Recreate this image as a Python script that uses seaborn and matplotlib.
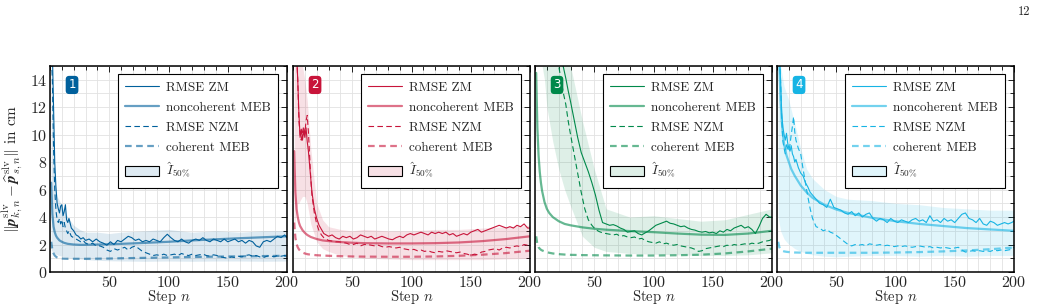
import numpy as np
import matplotlib
matplotlib.use("Agg")
import matplotlib.pyplot as plt
import seaborn as sns
from matplotlib.lines import Line2D
from matplotlib.patches import Patch
from matplotlib.ticker import MultipleLocator

# steps of the noisy RMSE curves
steps = ([1, 2, 3, 4, 5, 6, 7, 8, 9, 10, 11, 12, 13, 14, 15, 16]
         + [18, 20, 22, 24, 26, 28, 30]
         + list(range(33, 199, 3)) + [200])
# steps of the smooth MEB curves and the 50% bands
steps_s = [1, 2, 3, 4, 5, 6, 8, 10, 12, 15, 20, 25, 30, 40, 50, 60, 80, 100, 120, 140, 160, 180, 200]

# panel 1
zm1 = [16, 16, 12, 8.0, 6.2, 5.0, 4.6, 4.3, 4.8, 4.9, 4.1, 4.4, 4.9, 3.8, 3.6, 3.9,
       3.2, 3.0, 2.7, 2.6, 2.4, 2.5, 2.3,
       2.4, 2.2, 2.4, 2.2, 2.1, 1.95, 2.2, 2.0, 2.3, 2.2, 2.4, 2.6, 2.5, 2.3, 2.4, 2.2, 2.3, 2.2, 2.4, 2.3,
       2.2, 2.5, 2.75, 2.5, 2.3, 2.2, 2.4, 2.2, 2.1, 2.3, 2.4, 2.3, 2.5, 2.3, 2.2, 2.4, 2.3, 2.2, 2.4, 2.2,
       2.3, 2.4, 2.2, 2.3, 2.1, 2.3, 2.2, 1.9, 1.8, 2.2, 2.3, 2.2, 2.4, 2.6, 2.5, 2.7, 2.5]
nzm1 = [16, 14, 9, 6, 4.5, 3.8, 3.6, 3.9, 3.5, 3.8, 3.3, 3.6, 3.2, 3.0, 2.8, 3.0,
        2.6, 2.5, 2.4, 2.3, 2.2, 2.3, 2.1,
        2.0, 2.1, 1.9, 1.9, 1.8, 1.6, 1.5, 1.7, 1.6, 1.7, 1.8, 1.6, 1.8, 1.9, 1.7, 1.5, 1.4, 1.3, 1.2, 1.25,
        1.2, 1.3, 1.2, 1.25, 1.3, 1.2, 1.35, 1.25, 1.2, 1.3, 1.2, 1.25, 1.3, 1.2, 1.15, 1.25, 1.2, 1.1, 1.05,
        1.0, 1.1, 1.05, 1.15, 1.1, 1.2, 1.25, 1.15, 1.2, 1.1, 1.05, 1.15, 1.2, 1.1, 1.2, 1.15, 1.2, 1.15]
noncoh1 = [6.5, 4.2, 3.3, 2.9, 2.65, 2.5, 2.3, 2.2, 2.12, 2.05, 2.0, 1.98, 1.98, 2.0, 2.02, 2.05,
           2.12, 2.2, 2.3, 2.38, 2.46, 2.53, 2.6]
coh1 = [2.2, 1.6, 1.35, 1.2, 1.12, 1.06, 1.0, 0.98, 0.97, 0.96, 0.96, 0.96, 0.96, 0.97, 0.98, 1.0,
        1.03, 1.06, 1.09, 1.12, 1.14, 1.16, 1.18]
lo1 = [1.6, 1.5, 1.4, 1.35, 1.3, 1.25, 1.2, 1.15, 1.1, 1.05, 1.0, 0.95, 0.9, 0.85, 0.82, 0.8,
       0.78, 0.8, 0.78, 0.8, 0.8, 0.78, 0.8]
hi1 = [15, 12, 8.5, 7.0, 6.0, 5.5, 5.2, 4.8, 4.5, 4.0, 3.4, 3.1, 2.9, 2.9, 2.8, 2.9,
       3.0, 3.1, 2.9, 3.0, 2.9, 3.0, 3.0]

# panel 2
zm2 = [16, 16, 16, 14, 11.5, 9.8, 10.4, 9.6, 10.3, 9.8, 10.5, 9.5, 8.8, 7.8, 6.8, 5.8,
       4.6, 3.9, 3.4, 3.1, 2.8, 2.7, 2.6,
       2.7, 2.5, 2.4, 2.6, 2.5, 2.6, 2.4, 2.5, 2.7, 2.6, 2.5, 2.6, 2.4, 2.5, 2.6, 2.5, 2.4, 2.35, 2.5, 2.6,
       2.5, 2.7, 2.8, 2.7, 2.8, 2.9, 2.8, 2.7, 2.9, 2.8, 2.9, 2.8, 2.9, 2.7, 2.8, 2.6, 2.7, 2.8, 2.7, 2.9,
       3.0, 3.1, 2.9, 3.0, 3.1, 3.2, 3.3, 3.4, 3.3, 3.2, 3.3, 3.2, 3.4, 3.3, 3.5, 3.2, 3.2]
nzm2 = [16, 16, 16, 14, 11, 10.0, 9.6, 10.2, 10.6, 10.1, 11.0, 11.4, 10.2, 8.5, 6.8, 5.6,
        4.3, 3.5, 3.0, 2.7, 2.5, 2.4, 2.3,
        2.25, 2.2, 2.2, 2.15, 2.1, 2.0, 2.0, 2.1, 1.9, 2.0, 2.0, 1.95, 1.9, 1.95, 1.85, 1.8, 1.85, 1.8,
        1.75, 1.8, 1.7, 1.65, 1.6, 1.65, 1.55, 1.6, 1.5, 1.55, 1.45, 1.4, 1.5, 1.45, 1.55, 1.5, 1.45, 1.4,
        1.45, 1.35, 1.3, 1.2, 1.3, 1.25, 1.45, 1.5, 1.6, 1.65, 1.7, 1.6, 1.75, 1.8, 1.75, 1.85, 1.9, 1.85,
        2.0, 1.95, 2.0]
noncoh2 = [8.8, 5.8, 4.6, 4.0, 3.6, 3.35, 3.05, 2.85, 2.7, 2.55, 2.4, 2.3, 2.25, 2.18, 2.13, 2.1,
           2.08, 2.08, 2.1, 2.15, 2.25, 2.4, 2.6]
coh2 = [3.6, 2.5, 2.05, 1.8, 1.65, 1.55, 1.42, 1.35, 1.3, 1.26, 1.22, 1.2, 1.18, 1.15, 1.13, 1.12,
        1.11, 1.11, 1.13, 1.18, 1.26, 1.38, 1.55]
lo2 = [3.0, 4.0, 4.5, 5.0, 5.0, 5.2, 5.5, 5.5, 5.0, 3.5, 2.2, 1.7, 1.5, 1.2, 1.1, 1.0,
       0.95, 0.9, 0.9, 0.9, 0.9, 0.95, 1.0]
hi2 = [15, 15, 15, 15, 15, 15, 15, 14, 12.5, 9, 5.0, 3.8, 3.3, 3.1, 3.0, 3.1,
       3.0, 3.0, 3.1, 3.1, 3.2, 3.3, 3.4]

# panel 3
zm3 = [16, 16, 16, 16, 16, 16, 16, 16, 16, 16, 16, 16, 16, 16, 16, 16,
       16, 16, 15.5, 14.9, 14.1, 13.2, 12.4,
       11.1, 9.8, 8.7, 8.0, 7.3, 6.5, 5.6, 4.5, 3.6, 3.5, 3.4, 3.45, 3.35, 3.2, 3.1, 2.9, 2.95, 3.0, 2.8, 2.7,
       2.85, 3.0, 3.2, 3.4, 3.5, 3.6, 3.7, 3.55, 3.5, 3.4, 3.3, 3.35, 3.2, 3.1, 3.05, 2.95, 2.9, 2.95, 2.85,
       2.9, 2.8, 3.0, 2.9, 3.1, 3.0, 3.2, 3.3, 3.4, 3.2, 3.3, 3.1, 2.8, 3.3, 3.9, 4.2, 4.0, 4.0]
nzm3 = [16, 16, 16, 16, 16, 16, 16, 16, 16, 16, 16, 16, 16, 16, 16, 16,
        16, 15, 14.0, 13.0, 12.2, 11.0, 10.0,
        8.6, 7.2, 5.8, 4.6, 3.8, 3.4, 3.1, 2.95, 2.85, 2.8, 2.75, 2.7, 2.75, 2.6, 2.65, 2.55, 2.5, 2.55, 2.4,
        2.45, 2.3, 2.2, 2.15, 2.1, 2.2, 2.05, 2.1, 2.0, 1.95, 2.0, 1.9, 1.85, 1.8, 1.75, 1.65, 1.5, 1.55,
        1.7, 1.75, 1.8, 1.85, 1.9, 1.85, 1.95, 1.9, 2.0, 1.95, 2.0, 2.05, 2.0, 2.1, 2.05, 2.1, 2.2, 2.25,
        2.3, 2.4]
noncoh3 = [14.5, 10.5, 8.5, 7.3, 6.5, 5.9, 5.1, 4.6, 4.3, 4.0, 3.7, 3.5, 3.4, 3.25, 3.15, 3.08,
           2.98, 2.9, 2.8, 2.72, 2.7, 2.8, 3.0]
coh3 = [2.6, 2.0, 1.8, 1.7, 1.62, 1.57, 1.5, 1.45, 1.4, 1.35, 1.3, 1.27, 1.25, 1.23, 1.22, 1.21,
        1.2, 1.2, 1.22, 1.26, 1.35, 1.5, 1.7]
lo3 = [15, 15, 15, 15, 15, 15, 14, 12, 11, 9.5, 7.5, 6.0, 4.8, 2.6, 1.8, 1.5,
       1.35, 1.3, 1.25, 1.2, 1.2, 1.25, 1.4]
hi3 = [15, 15, 15, 15, 15, 15, 15, 15, 15, 15, 15, 15, 15, 11, 7.5, 4.6,
       4.0, 4.1, 3.9, 3.7, 3.8, 4.2, 4.6]

# panel 4
zm4 = [16, 16, 14, 11.5, 10.5, 10.0, 9.6, 10.1, 9.4, 9.0, 8.8, 9.2, 8.6, 8.4, 8.0, 8.2,
       7.6, 7.2, 7.0, 6.5, 6.2, 5.8, 5.6,
       5.3, 5.0, 4.9, 4.7, 5.3, 4.7, 4.6, 4.5, 4.3, 4.2, 4.4, 4.1, 4.3, 4.0, 4.2, 4.3, 3.9, 3.7, 3.9, 3.8,
       3.6, 3.9, 3.7, 3.6, 3.8, 3.7, 3.6, 3.8, 3.9, 3.7, 3.8, 3.6, 4.1, 3.7, 3.8, 3.6, 3.9, 3.7, 3.8, 3.6,
       3.9, 4.2, 4.3, 3.9, 3.8, 3.6, 3.9, 3.5, 3.4, 3.7, 3.6, 3.4, 3.5, 3.6, 3.5, 3.6, 3.7]
nzm4 = [16, 16, 14, 11, 9.5, 9.0, 8.6, 9.4, 9.0, 8.8, 9.3, 10.0, 10.6, 11.3, 10.2, 9.6,
        9.0, 8.6, 7.5, 6.5, 5.5, 4.6, 3.9,
        3.3, 3.2, 3.0, 3.1, 2.9, 2.8, 2.6, 2.4, 2.2, 2.0, 1.9, 2.0, 1.95, 2.0, 1.9, 2.05, 2.0, 1.95, 2.0,
        1.9, 1.95, 1.9, 1.85, 1.9, 1.85, 1.9, 1.85, 1.8, 1.85, 1.9, 1.85, 1.8, 1.85, 1.75, 1.8, 1.75, 1.8,
        1.75, 1.7, 1.75, 1.8, 1.6, 1.45, 1.5, 1.55, 1.5, 1.55, 1.5, 1.55, 1.5, 1.6, 1.55, 1.6, 1.55, 1.6,
        1.65, 1.8]
noncoh4 = [20, 15, 12.5, 11.0, 10.0, 9.3, 8.5, 8.0, 7.5, 7.0, 6.3, 5.8, 5.4, 4.9, 4.55, 4.3,
           3.95, 3.7, 3.5, 3.35, 3.2, 3.1, 3.0]
coh4 = [2.2, 1.8, 1.65, 1.58, 1.53, 1.5, 1.47, 1.45, 1.44, 1.42, 1.41, 1.4, 1.4, 1.4, 1.4, 1.4,
        1.4, 1.42, 1.45, 1.5, 1.57, 1.66, 1.78]
lo4 = [4.0, 3.5, 3.0, 2.8, 2.6, 2.4, 2.2, 2.0, 1.9, 1.7, 1.5, 1.35, 1.25, 1.15, 1.1, 1.15,
       1.2, 1.2, 1.15, 1.2, 1.15, 1.2, 1.2]
hi4 = [15, 15, 15, 14.5, 14, 13.5, 13, 12.5, 11.8, 10.8, 9.0, 7.5, 6.8, 6.0, 5.5, 5.3,
       5.2, 5.0, 4.9, 4.7, 4.6, 4.5, 4.5]

colors = ['#00609c', '#c8143a', '#00894a', '#16b4e4']
panels = [(zm1, nzm1, noncoh1, coh1, lo1, hi1),
          (zm2, nzm2, noncoh2, coh2, lo2, hi2),
          (zm3, nzm3, noncoh3, coh3, lo3, hi3),
          (zm4, nzm4, noncoh4, coh4, lo4, hi4)]

sns.set_style('white')
plt.rcParams['font.family'] = ['cmr10', 'DejaVu Serif']
plt.rcParams['mathtext.fontset'] = 'cm'
plt.rcParams['axes.formatter.use_mathtext'] = True
plt.rcParams['axes.unicode_minus'] = False

W, H = 1037, 308
fig = plt.figure(figsize=(W / 100, H / 100), dpi=100)
lefts = [50, 293, 535, 777]
fs_leg = 9.5
fs_tick = 11.5

for i, (zm, nzm, noncoh, coh, lo, hi) in enumerate(panels):
    c = colors[i]
    ax = fig.add_axes([lefts[i] / W, 36 / H, 237 / W, 206 / H])
    ax.fill_between(steps_s, lo, hi, color=c, alpha=0.13, lw=0)
    sns.lineplot(x=steps_s, y=noncoh, ax=ax, color=c, alpha=0.6, linewidth=1.6)
    sns.lineplot(x=steps_s, y=coh, ax=ax, color=c, alpha=0.6, linewidth=1.6, linestyle=(0, (3, 2)))
    sns.lineplot(x=steps, y=zm, ax=ax, color=c, linewidth=0.8)
    sns.lineplot(x=steps, y=nzm, ax=ax, color=c, linewidth=0.8, linestyle=(0, (5, 3)))

    ax.set_xlim(0, 200)
    ax.set_ylim(0, 15)
    ax.xaxis.set_major_locator(MultipleLocator(50))
    ax.xaxis.set_minor_locator(MultipleLocator(10))
    ax.yaxis.set_major_locator(MultipleLocator(2))
    ax.yaxis.set_minor_locator(MultipleLocator(1))
    ax.grid(True, which='both', color='#e2e2e2', lw=0.6)
    ax.set_axisbelow(True)
    ax.tick_params(which='both', direction='in', top=True, right=True, color='black',
                   labelsize=fs_tick, pad=2)
    ax.tick_params(which='major', length=4, width=0.6)
    ax.tick_params(which='minor', length=3, width=0.6)
    for sp in ax.spines.values():
        sp.set_color('black')
        sp.set_linewidth(1.1)
    ax.set_xticks([50, 100, 150, 200])
    ax.set_xlabel('Step $n$', fontsize=10.5, labelpad=-1)
    if i == 0:
        ax.set_ylabel(r'$\Vert\boldsymbol{p}^{\mathrm{slv}}_{k,n} - '
                      r'\widehat{\boldsymbol{p}}^{\mathrm{slv}}_{s,n}\Vert$ in cm',
                      fontsize=11, labelpad=4)
    else:
        ax.tick_params(labelleft=False)

    ax.text(0.093, 0.908, str(i + 1), transform=ax.transAxes, color='white',
            ha='center', va='center', fontsize=8.5, family='DejaVu Sans',
            bbox=dict(boxstyle='round,pad=0.22,rounding_size=0.3', fc=c, ec='none'))

    handles = [Line2D([], [], color=c, lw=0.8),
               Line2D([], [], color=c, lw=1.6, alpha=0.6),
               Line2D([], [], color=c, lw=0.8, linestyle=(0, (5, 3))),
               Line2D([], [], color=c, lw=1.6, alpha=0.6, linestyle=(0, (3, 2))),
               Patch(facecolor=matplotlib.colors.to_rgba(c, 0.13), edgecolor='black', lw=0.8)]
    labels = ['RMSE ZM', 'noncoherent MEB', 'RMSE NZM', 'coherent MEB', r'$\hat{I}_{50\%}$']
    leg = ax.legend(handles, labels, loc='upper right', bbox_to_anchor=(0.962, 0.961),
                    borderaxespad=0, fontsize=fs_leg, frameon=True, fancybox=False,
                    framealpha=1, edgecolor='black', handlelength=2.6, handletextpad=0.5,
                    labelspacing=0.55, borderpad=0.55, handleheight=0.8)
    leg.get_frame().set_linewidth(0.8)

fig.text(1024 / W, 1 - 12 / H, '12', ha='center', va='center', fontsize=9)

fig.savefig('out.png', dpi=100)
